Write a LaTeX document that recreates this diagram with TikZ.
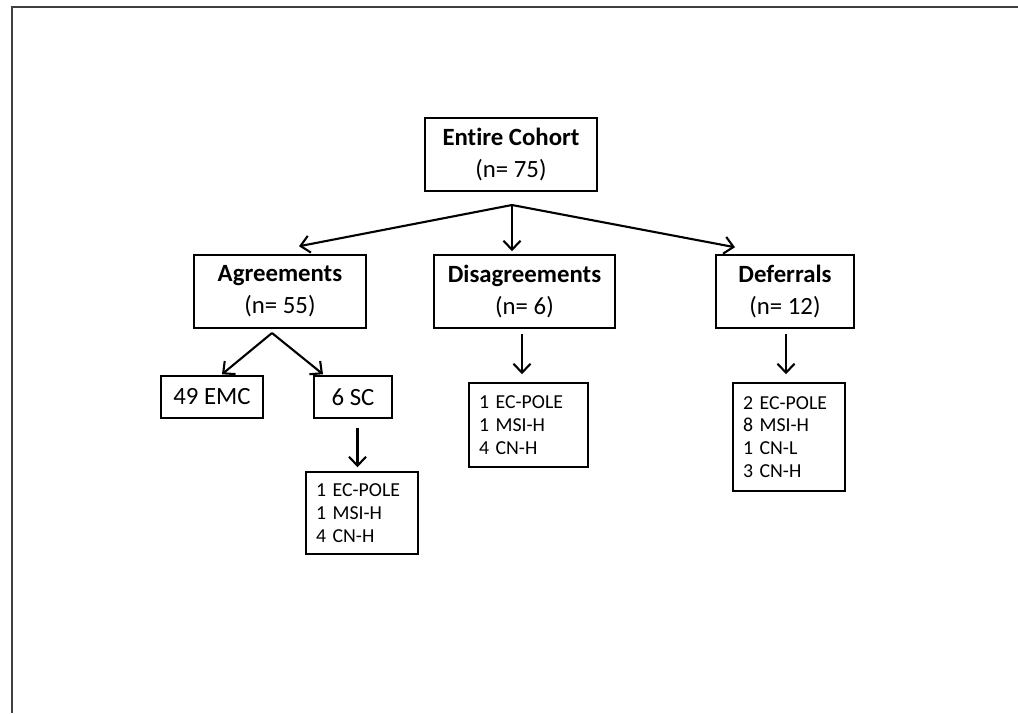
\documentclass[tikz,border=0pt]{standalone}
\usepackage{fontspec}
\setmainfont{Carlito}[Ligatures=NoCommon]
\usetikzlibrary{arrows.meta,positioning,calc}

\tikzset{
  catbox/.style={draw, line width=0.75pt, align=center, minimum height=36.5pt, inner sep=2pt, font=\fontsize{12.4}{16}\selectfont},
  leafbox/.style={draw, line width=0.75pt, minimum height=21pt, inner sep=2pt, font=\fontsize{12.4}{15}\selectfont},
  listbox/.style={draw, line width=0.75pt, align=left, inner xsep=5pt, font=\fontsize{9.9}{11.4}\selectfont},
  arr/.style={line width=1.05pt, -{Straight Barb[length=4.5pt,width=8.5pt]}},
}

\begin{document}
\begin{tikzpicture}[x=0.5pt, y=-0.5pt]
                \useasboundingbox (0,0) rectangle (1018,713);
                % Frame
                \draw[line width=1pt, black!75] (11.5,713) -- (11.5,6.5) -- (1018,6.5);

                % Cohort
                \node[catbox, minimum width=86pt] (cohort) at (511,154.5) {\textbf{Entire Cohort}\\(n= 75)};

                % Groups
                \node[catbox, minimum width=86pt] (agree) at (280,291.5) {\textbf{Agreements}\\(n= 55)};
                \node[catbox, minimum width=90.5pt] (disagree) at (524.5,291.5) {\textbf{Disagreements}\\(n= 6)};
                \node[catbox, minimum width=69pt] (defer) at (785,291.5) {\textbf{Deferrals}\\(n= 12)};

                % Agreements split
                \node[leafbox, minimum width=51pt] (emc) at (212,397) {49 EMC};
                \node[leafbox, minimum width=39pt] (sc) at (353,397) {6 SC};

                % Lists
                \node[listbox, text width=46pt, minimum height=41pt] (scdet) at (362,513) {1 EC-POLE\\1 MSI-H\\4 CN-H};
                \node[listbox, text width=49.5pt, minimum height=42pt] (disdet) at (528.5,425) {1 EC-POLE\\1 MSI-H\\4 CN-H};
                \node[listbox, text width=46pt, minimum height=54pt] (defdet) at (789,437) {2 EC-POLE\\8 MSI-H\\1 CN-L\\3 CN-H};

                % Arrows
                \coordinate (split) at (512,205);
                \draw[arr] (split) -- ($(agree.north)+(19,-8)$);
                \draw[arr] (split) -- ($(split |- disagree.north)+(0,-3)$);
                \draw[arr] (split) -- ($(defer.north)+(-50,-7)$);
                \coordinate (asplit) at (272,333);
                \draw[arr] (asplit) -- ($(emc.north)+(10,-1)$);
                \draw[arr] (asplit) -- ($(sc.north)+(-30,-1)$);
                \draw[arr] ($(sc.south)+(4.5,9)$) -- ($(scdet.north)+(-4.5,-4)$);
                \draw[arr] ($(disagree.south)+(-2.5,5)$) -- ($(disdet.north)+(-6.5,-8)$);
                \draw[arr] ($(defer.south)+(1,5)$) -- ($(defdet.north)+(-3,-8)$);
            \end{tikzpicture}
\end{document}
